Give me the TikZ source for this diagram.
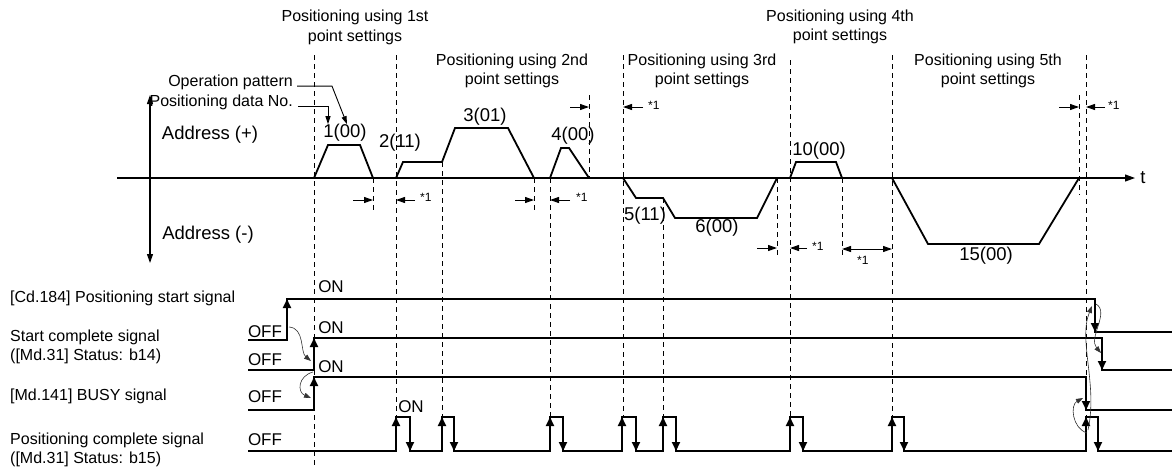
\documentclass[tikz,border=0pt]{standalone}
\usepackage{fontspec}
\setmainfont{Liberation Sans}
\usetikzlibrary{arrows.meta}
\tikzset{
	prof/.style={line width=1.8pt},
	sig/.style={line width=1.8pt},
	guide/.style={line width=0.9pt,dash pattern=on 5pt off 4pt},
	axisline/.style={line width=1.1pt},
	dim/.style={line width=1pt,-{Triangle[length=9pt,width=6pt]}},
	lead/.style={line width=0.9pt,-{Triangle[length=8pt,width=5pt]}},
	flank/.style={line width=1.8pt,-{Triangle[length=9pt,width=8pt]}},
	curv/.style={line width=0.6pt,black!80,-{Triangle[length=7pt,width=5pt]}},
	txt/.style={inner sep=0pt,font=\fontsize{16}{19.5}\selectfont},
	big/.style={inner sep=0pt,font=\fontsize{18.5}{20}\selectfont},
	lvl/.style={inner sep=0pt,font=\fontsize{17}{20}\selectfont},
	note/.style={inner sep=0pt,font=\fontsize{12}{14}\selectfont},
}
\begin{document}
\begin{tikzpicture}[x=1pt,y=-1pt]
	\useasboundingbox (0,0) rectangle (1172,467);
	\node[txt,align=center] (h1) at (355,27.5) {Positioning using 1st\\point settings};
	\node[txt,align=center] (h2) at (512,71) {Positioning using 2nd\\point settings};
	\node[txt,align=center] (h3) at (702,71) {Positioning using 3rd\\point settings};
	\node[txt,align=center] (h4) at (840,27) {Positioning using 4th\\point settings};
	\node[txt,align=center] (h5) at (988,71) {Positioning using 5th\\point settings};
	\draw[guide] (314,55) -- (314,467);
	\draw[guide] (396,55) -- (396,417);
	\draw[guide] (442,162) -- (442,417);
	\draw[guide] (550,178) -- (550,417);
	\draw[guide] (623,55) -- (623,417);
	\draw[guide] (663,198) -- (663,417);
	\draw[guide] (790,60) -- (790,417);
	\draw[guide] (892,55) -- (892,417);
	\draw[guide] (1086,55) -- (1086,417);
	\draw[guide] (373,178) -- (373,212);
	\draw[guide] (534,178) -- (534,212);
	\draw[guide] (589,95) -- (589,178);
	\draw[guide] (777,178) -- (777,258);
	\draw[guide] (842,178) -- (842,258);
	\draw[guide] (1079,95) -- (1079,195);
	\draw[axisline,{Triangle[length=9pt,width=6pt]}-{Triangle[length=9pt,width=6pt]}] (150,95) -- (150,263);
	\draw[axisline,-{Triangle[length=10pt,width=7pt]}] (117,178) -- (1135,178);
	\node[big] (t) at (1143,178) {t};
	\node[big] (ap) at (210,135) {Address (+)};
	\node[big] (am) at (208,235) {Address (-)};
	\draw[prof] (314,178) -- (328,145) -- (360,145) -- (373,178);
	\draw[prof] (396,178) -- (403,162) -- (442,162) -- (455,128) -- (508,128) -- (534,178);
	\draw[prof] (550,178) -- (561,148) -- (569,148) -- (589,178);
	\draw[prof] (623,178) -- (636,198) -- (663,198) -- (675,218) -- (757,218) -- (777,178);
	\draw[prof] (790,178) -- (796,162) -- (836,162) -- (842,178);
	\draw[prof] (892,178) -- (928,244) -- (1039,244) -- (1079,178);
	\node[big] (n1) at (345,133) {1(00)};
	\node[big] (n2) at (400,143) {2(11)};
	\node[big] (n3) at (485,117) {3(01)};
	\node[big] (n4) at (573,136) {4(00)};
	\node[big] (n5) at (645,216) {5(11)};
	\node[big] (n6) at (717,228) {6(00)};
	\node[big] (n10) at (819,151) {10(00)};
	\node[big] (n15) at (986,256) {15(00)};
	\node[txt,anchor=east] (op) at (293,82) {Operation pattern};
	\node[txt,anchor=east] (pd) at (293,102) {Positioning data No.};
	\draw[lead] ([xshift=4pt]op.base east) -- ([xshift=39pt]op.base east) -- ([xshift=2pt]n1.north);
	\draw[lead] ([xshift=5pt]pd.base east) -- ([xshift=35pt]pd.base east) -- ([xshift=-17pt]n1.north);
	\draw[dim] (353,200) -- (373,200);
	\draw[dim] (415,200) -- (396,200);
	\node[note,anchor=west] (k1) at (420,197) {*1};
	\draw[dim] (515,200) -- (534,200);
	\draw[dim] (570,200) -- (550,200);
	\node[note,anchor=west] (k2) at (576,197) {*1};
	\draw[dim] (570,107) -- (589,107);
	\draw[dim] (643,107) -- (623,107);
	\node[note,anchor=west] (k3) at (648,105) {*1};
	\draw[dim] (757,248) -- (777,248);
	\draw[dim] (807,248) -- (790,248);
	\node[note,anchor=west] (k4) at (812,246) {*1};
	\draw[dim,{Triangle[length=9pt,width=6pt]}-{Triangle[length=9pt,width=6pt]}] (842,249) -- (892,249);
	\node[note,anchor=west] (k5) at (857,260) {*1};
	\draw[dim] (1059,107) -- (1079,107);
	\draw[dim] (1105,107) -- (1086,107);
	\node[note,anchor=west] (k6) at (1108,105) {*1};
	\node[txt,anchor=west] (s1) at (10,298) {[Cd.184] Positioning start signal};
	\node[txt,anchor=west,align=left] (s2) at (10,347) {Start complete signal\\([Md.31] Status: b14)};
	\node[txt,anchor=west] (s3) at (10,396) {[Md.141] BUSY signal};
	\node[txt,anchor=west,align=left] (s4) at (10,450) {Positioning complete signal\\([Md.31] Status: b15)};
	\node[lvl] (f1) at (265,332) {OFF};
	\node[lvl] (f2) at (265,360) {OFF};
	\node[lvl] (f3) at (265,397) {OFF};
	\node[lvl] (f4) at (265,440) {OFF};
	\node[lvl] (o1) at (331,287) {ON};
	\node[lvl] (o2) at (331,328) {ON};
	\node[lvl] (o3) at (331,367) {ON};
	\node[lvl] (o4) at (411,407) {ON};
	\draw[sig] (248,340) -- (287,340) -- (287,299) -- (1095,299) -- (1095,332) -- (1172,332);
	\draw[flank] (287,325) -- (287,299);
	\draw[flank] (1095,310) -- (1095,332);
	\draw[sig] (248,370) -- (314,370) -- (314,338) -- (1102,338) -- (1102,370) -- (1172,370);
	\draw[flank] (314,360) -- (314,338);
	\draw[flank] (1102,348) -- (1102,370);
	\draw[sig] (248,410) -- (314,410) -- (314,377) -- (1086,377) -- (1086,410) -- (1172,410);
	\draw[flank] (314,400) -- (314,377);
	\draw[flank] (1086,388) -- (1086,410);
	\draw[sig] (248,451) -- (396,451) -- (396,417) -- (410,417) -- (410,451) -- (442,451) -- (442,417) -- (454,417) -- (454,451) -- (550,451) -- (550,417) -- (563,417) -- (563,451) -- (622,451) -- (622,417) -- (636,417) -- (636,451) -- (663,451) -- (663,417) -- (676,417) -- (676,451) -- (790,451) -- (790,417) -- (803,417) -- (803,451) -- (892,451) -- (892,417) -- (904,417) -- (904,451) -- (1086,451) -- (1086,417) -- (1098,417) -- (1098,451) -- (1172,451);
	\draw[flank] (396,440) -- (396,417);
	\draw[flank] (410,428) -- (410,451);
	\draw[flank] (442,440) -- (442,417);
	\draw[flank] (454,428) -- (454,451);
	\draw[flank] (550,440) -- (550,417);
	\draw[flank] (563,428) -- (563,451);
	\draw[flank] (622,440) -- (622,417);
	\draw[flank] (636,428) -- (636,451);
	\draw[flank] (663,440) -- (663,417);
	\draw[flank] (676,428) -- (676,451);
	\draw[flank] (790,440) -- (790,417);
	\draw[flank] (803,428) -- (803,451);
	\draw[flank] (892,440) -- (892,417);
	\draw[flank] (904,428) -- (904,451);
	\draw[flank] (1086,440) -- (1086,417);
	\draw[flank] (1098,428) -- (1098,451);
	\coordinate (c1) at (289,327);
	\coordinate (c2) at (311,361);
	\draw[curv] (c1) .. controls (305,328) and (300,352) .. (c2);
	\coordinate (c3) at (313,372);
	\coordinate (c4) at (311,398);
	\draw[curv] (c3) .. controls (298,376) and (297,392) .. (c4);
	\coordinate (c5) at (1096,304);
	\coordinate (c6) at (1101,353);
	\draw[curv] (c5) .. controls (1110,312) and (1088,338) .. (c6);
	\coordinate (c7) at (1088,430);
	\coordinate (c8) at (1092,306);
	\draw[curv] (c7) .. controls (1098,385) and (1078,340) .. (c8);
	\coordinate (c9) at (1087,433);
	\coordinate (c10) at (1083,398);
	\draw[curv] (c9) .. controls (1072,428) and (1070,405) .. (c10);
\end{tikzpicture}
\end{document}
